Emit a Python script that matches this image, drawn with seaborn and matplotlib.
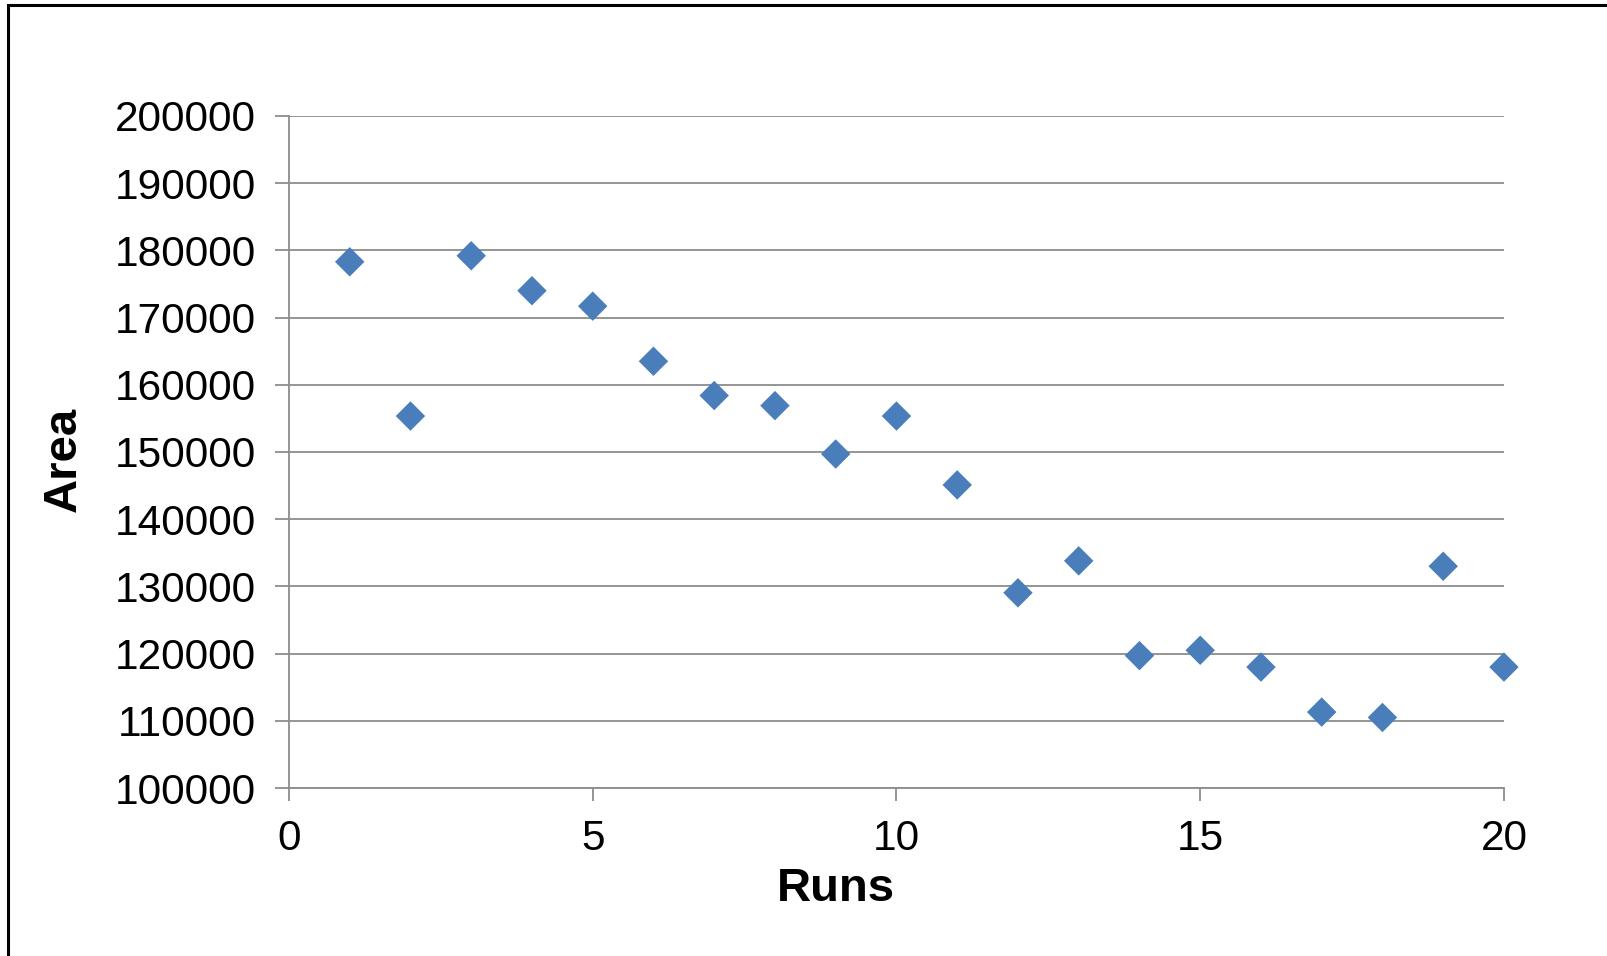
import numpy as np
import pandas as pd
import matplotlib
matplotlib.use('Agg')
import matplotlib.pyplot as plt
import seaborn as sns
from matplotlib.patches import Rectangle

# dados
runs = [1, 2, 3, 4, 5, 6, 7, 8, 9, 10, 11, 12, 13, 14, 15, 16, 17, 18, 19, 20]
area = [178300, 155350, 179200, 174000, 171700, 163500, 158400, 156900, 149700, 155350,
        145100, 129050, 133800, 119700, 120500, 118000, 111300, 110500, 133000, 118000]
y_ticks = [100000, 110000, 120000, 130000, 140000, 150000, 160000, 170000, 180000, 190000, 200000]
x_ticks = [0, 5, 10, 15, 20]

df = pd.DataFrame({'Runs': runs, 'Area': area})

sns.set_style('white')
plt.rcParams['font.family'] = ['Liberation Sans', 'DejaVu Sans']
plt.rcParams['text.color'] = 'black'
plt.rcParams['xtick.labelcolor'] = 'black'
plt.rcParams['ytick.labelcolor'] = 'black'

fig = plt.figure(figsize=(16.08, 9.56), dpi=100)
ax = fig.add_axes([0.1797, 0.1757, 0.7556, 0.7030])

# moldura da figura (cortada a direita e embaixo)
fig.patches.append(Rectangle((8 / 1608, -0.05), 1.2, 1 - 5 / 956 + 0.05, transform=fig.transFigure,
                             fill=False, edgecolor='black', linewidth=2.2))

sns.scatterplot(data=df, x='Runs', y='Area', marker='D', s=225, color='#4A7EBB',
                edgecolor='none', ax=ax, zorder=3, clip_on=False)

ax.set_xlim(0, 20)
ax.set_ylim(100000, 200000)
ax.set_xticks(x_ticks)
ax.set_yticks(y_ticks)
ax.set_yticklabels([str(v) for v in y_ticks])

ax.grid(axis='y', color='#8C8C8C', linewidth=1.3)
ax.grid(axis='x', visible=False)
for lado in ['top', 'right']:
    ax.spines[lado].set_visible(False)
for lado in ['left', 'bottom']:
    ax.spines[lado].set_color('#8C8C8C')
    ax.spines[lado].set_linewidth(1.3)

ax.tick_params(axis='y', direction='out', length=10, width=1.3, color='#8C8C8C',
               labelsize=30.5, pad=14, left=True, labelcolor='black')
ax.tick_params(axis='x', direction='out', length=9, width=1.3, color='#8C8C8C',
               labelsize=30.5, pad=13, bottom=True, labelcolor='black')

ax.set_xlabel('Runs', fontsize=34, fontweight='bold', color='black', va='center')
ax.set_ylabel('Area', fontsize=34, fontweight='bold', color='black', va='center')
ax.xaxis.set_label_coords(0.45, -0.150)
ax.yaxis.set_label_coords(-0.1855, 0.489)

plt.savefig('out.png', dpi=100)
